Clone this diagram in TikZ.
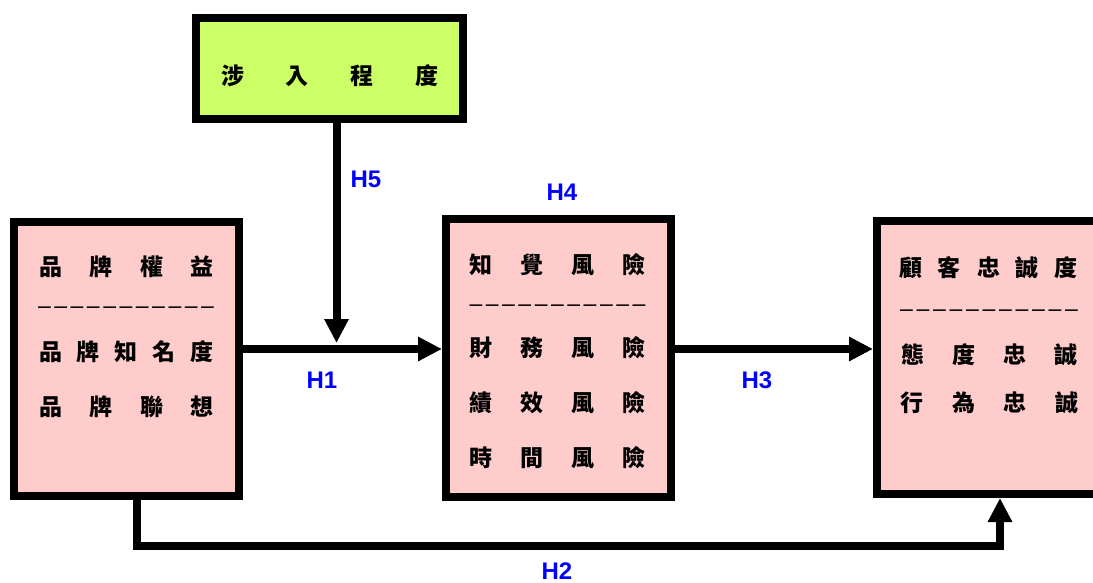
\documentclass[tikz,border=0pt]{standalone}
\usepackage{fontspec}
\usetikzlibrary{arrows.meta}
\newfontfamily\cjk{Noto Sans CJK TC}
\newfontfamily\labfont{Liberation Sans}
\definecolor{boxpink}{RGB}{255,204,204}
\definecolor{boxgreen}{RGB}{204,255,102}
\definecolor{hblue}{RGB}{0,0,255}
% spread a row of characters evenly over a fixed width
\newcommand\spreadrow[2]{\makebox[#1][s]{#2}}
\newcommand\dashrow[1]{\makebox[#1][s]{–\hfill–\hfill–\hfill–\hfill–\hfill–\hfill–\hfill–\hfill–\hfill–\hfill–}}

\begin{document}
\begin{tikzpicture}[x=1pt,y=-1pt,
  frame/.style={draw=black, line width=8pt, fill=boxpink, inner sep=0pt, outer sep=4pt},
  conn/.style={line width=8pt, -{Triangle[length=24pt,width=23pt]}},
  row/.style={inner sep=0pt, font=\cjk\bfseries\fontsize{23}{23}\selectfont},
  sep/.style={inner sep=0pt, font=\labfont\fontsize{23}{23}\selectfont},
  hlabel/.style={inner sep=0pt, text=hblue, font=\labfont\bfseries\fontsize{24}{24}\selectfont}]
\useasboundingbox (0,0) rectangle (1093,583);
\clip (0,0) rectangle (1093,583);

% boxes
\node[frame, fill=boxgreen, minimum width=267pt, minimum height=101.5pt] (T) at (329.5,68.75) {};
\node[frame, minimum width=225pt, minimum height=274pt] (L) at (126.5,359) {};
\node[frame, minimum width=225pt, minimum height=278pt] (M) at (558.5,358) {};
\node[frame, minimum width=233pt, minimum height=273pt] (R) at (993.5,357.5) {};

% box texts
\node[row] (t1) at (330,76) {\spreadrow{218pt}{涉\hfill 入\hfill 程\hfill 度}};

\node[row] (l1) at (126.5,267) {\spreadrow{175pt}{品\hfill 牌\hfill 權\hfill 益}};
\node[sep] (l2) at (126,310) {\dashrow{176pt}};
\node[row] (l3) at (126.5,352) {\spreadrow{175pt}{品\hfill 牌\hfill 知\hfill 名\hfill 度}};
\node[row] (l4) at (126.5,407) {\spreadrow{175pt}{品\hfill 牌\hfill 聯\hfill 想}};

\node[row] (m1) at (557.5,265) {\spreadrow{177pt}{知\hfill 覺\hfill 風\hfill 險}};
\node[sep] (m2) at (557.5,308) {\dashrow{176pt}};
\node[row] (m3) at (557.5,348) {\spreadrow{177pt}{財\hfill 務\hfill 風\hfill 險}};
\node[row] (m4) at (557.5,403) {\spreadrow{177pt}{績\hfill 效\hfill 風\hfill 險}};
\node[row] (m5) at (557.5,458) {\spreadrow{177pt}{時\hfill 間\hfill 風\hfill 險}};

\node[row] (r1) at (988.5,268) {\spreadrow{179pt}{顧\hfill 客\hfill 忠\hfill 誠\hfill 度}};
\node[sep] (r2) at (989,313) {\dashrow{178pt}};
\node[row] (r3) at (989.5,355) {\spreadrow{176pt}{態\hfill 度\hfill 忠\hfill 誠}};
\node[row] (r4) at (989.5,403) {\spreadrow{178pt}{行\hfill 為\hfill 忠\hfill 誠}};

% connector routing points
\coordinate (h1y) at (0,349);
\coordinate (junc) at (336.5,343);
\coordinate (c1) at (136.5,546);
\coordinate (c2) at (1000,546);

% connectors
\draw[conn] (L.east |- h1y) -- (M.west |- h1y);
\draw[conn] (M.east |- h1y) -- (R.west |- h1y);
\draw[conn] (T.south -| junc) -- (junc);
\draw[conn] (L.south -| c1) -- (c1) -- (c2) -- (R.south -| c2);

% hypothesis labels
\node[hlabel] (H5) at (366,179) {H5};
\node[hlabel] (H4) at (562,192) {H4};
\node[hlabel] (H1) at (322,380) {H1};
\node[hlabel] (H3) at (757,380) {H3};
\node[hlabel] (H2) at (557,571) {H2};
\end{tikzpicture}
\end{document}
